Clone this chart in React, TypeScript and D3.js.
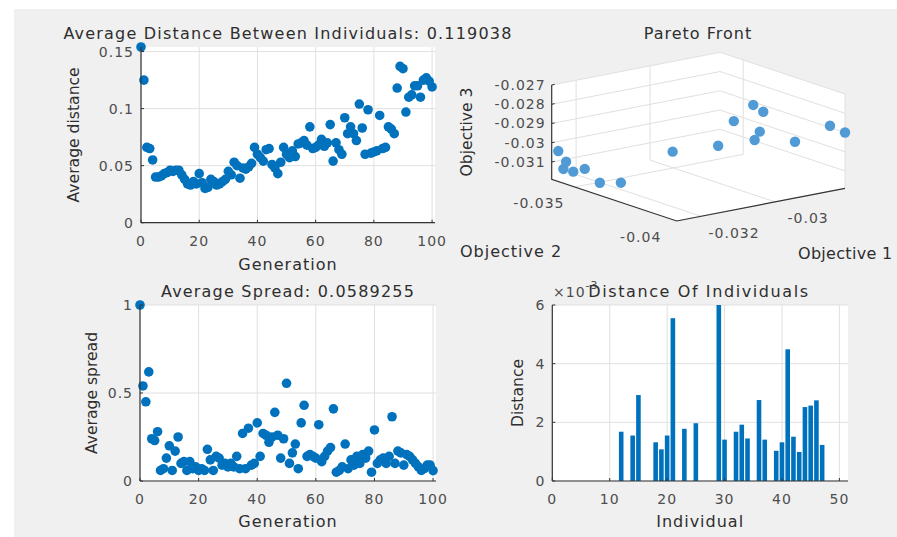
import React from 'react';
import * as d3 from 'd3';

// ---------- Data ----------
const avgDistance = [
  0.154, 0.125, 0.066, 0.065, 0.055, 0.040, 0.040, 0.041, 0.043, 0.044,
  0.046, 0.045, 0.046, 0.046, 0.042, 0.038, 0.034, 0.033, 0.036, 0.034,
  0.043, 0.035, 0.030, 0.031, 0.038, 0.036, 0.033, 0.034, 0.036, 0.038,
  0.045, 0.042, 0.053, 0.050, 0.039, 0.048, 0.047, 0.049, 0.052, 0.066,
  0.060, 0.057, 0.054, 0.064, 0.065, 0.051, 0.048, 0.043, 0.053, 0.066,
  0.060, 0.057, 0.063, 0.058, 0.069, 0.070, 0.072, 0.068, 0.084, 0.065,
  0.066, 0.068, 0.073, 0.067, 0.070, 0.086, 0.054, 0.070, 0.064, 0.060,
  0.092, 0.078, 0.084, 0.078, 0.072, 0.104, 0.083, 0.060, 0.099, 0.061,
  0.062, 0.063, 0.094, 0.065, 0.066, 0.084, 0.082, 0.078, 0.118, 0.137,
  0.135, 0.097, 0.110, 0.112, 0.120, 0.120, 0.110, 0.125, 0.127, 0.124,
  0.119,
];

const avgSpread = [
  1.0, 0.54, 0.45, 0.62, 0.24, 0.23, 0.28, 0.06, 0.07, 0.13,
  0.20, 0.06, 0.17, 0.25, 0.10, 0.11, 0.06, 0.11, 0.07, 0.08,
  0.06, 0.07, 0.06, 0.18, 0.12, 0.06, 0.14, 0.13, 0.09, 0.10,
  0.08, 0.10, 0.08, 0.14, 0.07, 0.27, 0.07, 0.30, 0.09, 0.10,
  0.33, 0.14, 0.27, 0.26, 0.22, 0.25, 0.39, 0.26, 0.13, 0.24,
  0.555, 0.10, 0.16, 0.21, 0.07, 0.33, 0.43, 0.14, 0.15, 0.14,
  0.13, 0.32, 0.11, 0.14, 0.17, 0.19, 0.41, 0.05, 0.06, 0.08,
  0.21, 0.07, 0.12, 0.09, 0.14, 0.10, 0.15, 0.13, 0.17, 0.05,
  0.29, 0.10, 0.12, 0.13, 0.10, 0.14, 0.365, 0.10, 0.17, 0.16,
  0.09, 0.15, 0.14, 0.12, 0.10, 0.08, 0.06, 0.07, 0.09, 0.09,
  0.059,
];

// distance of individuals 1..50, in units of 1e-3
const individualDistance = [
  0, 0, 0, 0, 0, 0, 0, 0, 0, 0,
  0, 1.68, 0, 1.55, 2.93, 0, 0, 1.32, 1.08, 1.55,
  5.55, 0, 1.78, 0, 1.97, 0, 0, 0, 6.0, 1.41,
  0, 1.68, 1.92, 1.45, 0, 2.76, 1.41, 0, 1.03, 1.32,
  4.49, 1.51, 0.99, 2.52, 2.57, 2.75, 1.23, 0, 0, 0,
];

const paretoObj1 = [
  -0.03262, -0.03254, -0.03258, -0.03255, -0.03251, -0.03251, -0.03248, -0.03108,
  -0.03002, -0.02909, -0.02873, -0.02863, -0.02906, -0.02937, -0.02862, -0.02818, -0.02811,
];
const paretoObj2 = [
  -0.03411, -0.03435, -0.03429, -0.03472, -0.03521, -0.03595, -0.03693, -0.03693,
  -0.03724, -0.03632, -0.03662, -0.03693, -0.03754, -0.03785, -0.03847, -0.03939, -0.04,
];
const paretoObj3 = [
  -0.03036, -0.03086, -0.03124, -0.03124, -0.03094, -0.0314, -0.03106, -0.02997,
  -0.02995, -0.02934, -0.02853, -0.02881, -0.02947, -0.02968, -0.02983, -0.02884, -0.029,
];

const genTicks = [0, 20, 40, 60, 80, 100];
const distTicks = [0, 0.05, 0.1, 0.15];
const distTickLabels = ['0', '0.05', '0.1', '0.15'];
const spreadTicks = [0, 0.5, 1];
const spreadTickLabels = ['0', '0.5', '1'];
const indTicks = [0, 10, 20, 30, 40, 50];
const indDistTicks = [0, 2, 4, 6];
const obj1Ticks = [-0.032, -0.03];
const obj1TickLabels = ['-0.032', '-0.03'];
const obj2Ticks = [-0.04, -0.035];
const obj2TickLabels = ['-0.04', '-0.035'];
const obj3Ticks = [-0.031, -0.03, -0.029, -0.028, -0.027];
const obj3TickLabels = ['-0.031', '-0.03', '-0.029', '-0.028', '-0.027'];

// ---------- Styles ----------
const FONT = 'DejaVu Sans';
const TXT = '#2e2e2e';
const TICKTXT = '#4d4d4d';
const AXIS = '#333333';
const GRID = '#e0e0e0';
const BLUE = '#0072BD';
const BLUE3D = '#509bd5';

type P2 = {
  x0: number; x1: number; y0: number; y1: number;
  xDomain: [number, number]; yDomain: [number, number];
  xTicks: number[]; xTickLabels: string[];
  yTicks: number[]; yTickLabels: string[];
  title: string; titleY: number;
  xLabel: string; xLabelY: number;
  yLabel: string; yLabelX: number;
  children: (x: d3.ScaleLinear<number, number>, y: d3.ScaleLinear<number, number>) => React.ReactNode;
};

function Panel2D(p: P2) {
  const x = d3.scaleLinear().domain(p.xDomain).range([p.x0, p.x1]);
  const y = d3.scaleLinear().domain(p.yDomain).range([p.y1, p.y0]);
  const cx = (p.x0 + p.x1) / 2;
  const cy = (p.y0 + p.y1) / 2;
  return (
    <g>
      <rect x={p.x0} y={p.y0} width={p.x1 - p.x0} height={p.y1 - p.y0} fill="#ffffff" />
      {p.xTicks.map((t, i) => (
        <line key={'gx' + i} x1={x(t)} x2={x(t)} y1={p.y0} y2={p.y1} stroke={GRID} strokeWidth={1} />
      ))}
      {p.yTicks.map((t, i) => (
        <line key={'gy' + i} x1={p.x0} x2={p.x1} y1={y(t)} y2={y(t)} stroke={GRID} strokeWidth={1} />
      ))}
      {p.children(x, y)}
      <line x1={p.x0} x2={p.x0} y1={p.y0} y2={p.y1} stroke={AXIS} strokeWidth={1.2} />
      <line x1={p.x0} x2={p.x1} y1={p.y1} y2={p.y1} stroke={AXIS} strokeWidth={1.2} />
      {p.xTicks.map((t, i) => (
        <g key={'tx' + i}>
          <line x1={x(t)} x2={x(t)} y1={p.y1} y2={p.y1 - 3} stroke={AXIS} strokeWidth={1} />
          <text x={x(t)} y={p.y1 + 23} textAnchor="middle" fontSize={14} letterSpacing={1} fill={TICKTXT}>
            {p.xTickLabels[i]}
          </text>
        </g>
      ))}
      {p.yTicks.map((t, i) => (
        <g key={'ty' + i}>
          <line x1={p.x0} x2={p.x0 + 3} y1={y(t)} y2={y(t)} stroke={AXIS} strokeWidth={1} />
          <text x={p.x0 - 7} y={y(t) + 5} textAnchor="end" fontSize={14} letterSpacing={1} fill={TICKTXT}>
            {p.yTickLabels[i]}
          </text>
        </g>
      ))}
      {p.title ? (
        <text x={cx} y={p.titleY} textAnchor="middle" fontSize={16} letterSpacing={1.2} fill={TXT}>
          {p.title}
        </text>
      ) : null}
      <text x={cx} y={p.xLabelY} textAnchor="middle" fontSize={16} letterSpacing={1} fill={TXT}>
        {p.xLabel}
      </text>
      <text
        transform={`translate(${p.yLabelX},${cy}) rotate(-90)`}
        textAnchor="middle"
        fontSize={15.6}
        fill={TXT}
      >
        {p.yLabel}
      </text>
    </g>
  );
}

function Pareto3D() {
  // screen corners of the 3D box
  const F = [676.7, 221];
  const R = [845, 188.3];
  const L = [551.7, 179.3];
  const H = 94.3;
  const sS = d3.scaleLinear().domain([-0.03266, -0.02811]).range([0, 1]);
  const sT = d3.scaleLinear().domain([-0.04, -0.03386]).range([0, 1]);
  const sW = d3.scaleLinear().domain([-0.0319, -0.027]).range([0, 1]);
  const proj = (s: number, t: number, w: number): [number, number] => [
    F[0] + s * (R[0] - F[0]) + t * (L[0] - F[0]),
    F[1] + s * (R[1] - F[1]) + t * (L[1] - F[1]) - w * H,
  ];
  const hex = [proj(0, 1, 1), proj(1, 1, 1), proj(1, 0, 1), proj(1, 0, 0), proj(0, 0, 0), proj(0, 1, 0)];
  const lines: [number, number][][] = [];
  obj3Ticks.forEach((z) => {
    const w = sW(z);
    lines.push([proj(0, 1, w), proj(1, 1, w), proj(1, 0, w)]);
  });
  obj1Ticks.forEach((v) => {
    const s = sS(v);
    lines.push([proj(s, 0, 0), proj(s, 1, 0), proj(s, 1, 1)]);
  });
  obj2Ticks.forEach((v) => {
    const t = sT(v);
    lines.push([proj(0, t, 0), proj(1, t, 0), proj(1, t, 1)]);
  });
  const lineGen = d3.line();
  const order = d3.range(paretoObj1.length).sort(
    (a, b) => (sS(paretoObj1[a]) + sT(paretoObj2[a])) - (sS(paretoObj1[b]) + sT(paretoObj2[b]))
  ).reverse();
  return (
    <g>
      <path d={lineGen(hex) + 'Z'} fill="#ffffff" />
      {lines.map((l, i) => (
        <path key={'g' + i} d={lineGen(l) || ''} fill="none" stroke={GRID} strokeWidth={1} />
      ))}
      {order.map((i) => {
        const [px, py] = proj(sS(paretoObj1[i]), sT(paretoObj2[i]), sW(paretoObj3[i]));
        return <circle key={'p' + i} cx={px} cy={py} r={5.2} fill={BLUE3D} />;
      })}
      {/* axes */}
      <path d={lineGen([proj(0, 1, 1), proj(0, 1, 0), proj(0, 0, 0), proj(1, 0, 0)]) || ''} fill="none" stroke={AXIS} strokeWidth={1.2} />
      {obj3Ticks.map((z, i) => {
        const [px, py] = proj(0, 1, sW(z));
        return (
          <g key={'z' + i}>
            <line x1={px} x2={px + 3} y1={py} y2={py - 0.6} stroke={AXIS} />
            <text x={px - 6} y={py + 5} textAnchor="end" fontSize={14} letterSpacing={1} fill={TICKTXT}>
              {obj3TickLabels[i]}
            </text>
          </g>
        );
      })}
      {obj2Ticks.map((v, i) => {
        const [px, py] = proj(0, sT(v), 0);
        return (
          <text key={'o2' + i} x={px - 36} y={py + 21} textAnchor="middle" fontSize={14} letterSpacing={1} fill={TICKTXT}>
            {obj2TickLabels[i]}
          </text>
        );
      })}
      {obj1Ticks.map((v, i) => {
        const [px, py] = proj(sS(v), 0, 0);
        return (
          <text key={'o1' + i} x={px + 33} y={py + 21.5} textAnchor="middle" fontSize={14} letterSpacing={1} fill={TICKTXT}>
            {obj1TickLabels[i]}
          </text>
        );
      })}
      <text x={698} y={39} textAnchor="middle" fontSize={16} letterSpacing={1} fill={TXT}>Pareto Front</text>
      <text transform="translate(472,132) rotate(-90)" textAnchor="middle" fontSize={15.6} fill={TXT}>Objective 3</text>
      <text x={460} y={257} fontSize={16} letterSpacing={1} fill={TXT}>Objective 2</text>
      <text x={798} y={259} fontSize={16} letterSpacing={0.3} fill={TXT}>Objective 1</text>
    </g>
  );
}

export default function App() {
  const gens = avgDistance.map((_, i) => i);
  return (
    <svg
      width={897}
      height={537}
      style={{ position: 'absolute', left: 0, top: 0, fontFamily: FONT }}
    >
      <rect x={0} y={0} width={897} height={537} fill="#ffffff" />
      <rect x={14} y={9} width={883} height={528} fill="#f0f0f0" />

      <Panel2D
        x0={141} x1={435} y0={47} y1={222.7}
        xDomain={[0, 101]} yDomain={[0, 0.154]}
        xTicks={genTicks} xTickLabels={genTicks.map(String)}
        yTicks={distTicks} yTickLabels={distTickLabels}
        title="Average Distance Between Individuals: 0.119038" titleY={39}
        xLabel="Generation" xLabelY={270}
        yLabel="Average distance" yLabelX={79}
      >
        {(x, y) =>
          gens.map((g) => <circle key={g} cx={x(g)} cy={y(avgDistance[g])} r={4.8} fill={BLUE} />)
        }
      </Panel2D>

      <Panel2D
        x0={140} x1={436} y0={305} y1={481}
        xDomain={[0, 101]} yDomain={[0, 1]}
        xTicks={genTicks} xTickLabels={genTicks.map(String)}
        yTicks={spreadTicks} yTickLabels={spreadTickLabels}
        title="Average Spread: 0.0589255" titleY={297}
        xLabel="Generation" xLabelY={527}
        yLabel="Average spread" yLabelX={97}
      >
        {(x, y) =>
          gens.map((g) => <circle key={g} cx={x(g)} cy={y(avgSpread[g])} r={4.8} fill={BLUE} />)
        }
      </Panel2D>

      <Panel2D
        x0={552.3} x1={848} y0={305} y1={481}
        xDomain={[0, 51.5]} yDomain={[0, 6]}
        xTicks={indTicks} xTickLabels={indTicks.map(String)}
        yTicks={indDistTicks} yTickLabels={indDistTicks.map(String)}
        title="" titleY={297}
        xLabel="Individual" xLabelY={527}
        yLabel="Distance" yLabelX={523}
      >
        {(x, y) =>
          individualDistance.map((v, i) =>
            v > 0 ? (
              <rect
                key={i}
                x={x(i + 1 - 0.4)}
                width={x(0.8) - x(0)}
                y={y(v)}
                height={y(0) - y(v)}
                fill={BLUE}
              />
            ) : null
          )
        }
      </Panel2D>
      <text x={553} y={297} fontSize={14} letterSpacing={1} fill={TICKTXT}>
        ×10<tspan dy={-8} fontSize={11}>-3</tspan>
      </text>
      <text x={699} y={297} textAnchor="middle" fontSize={16} letterSpacing={1.6} fill={TXT}>
        Distance Of Individuals
      </text>

      <Pareto3D />
    </svg>
  );
}
